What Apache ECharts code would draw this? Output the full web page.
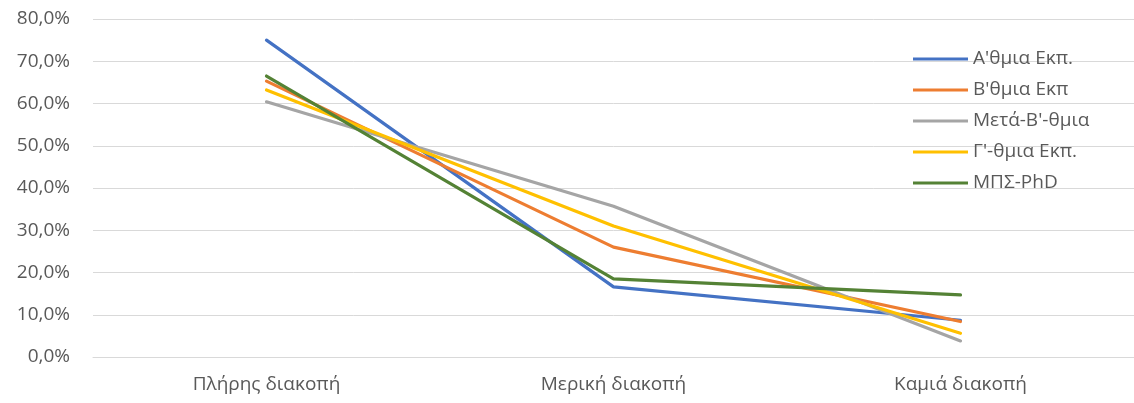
<!DOCTYPE html>
<html>
<head>
<meta charset="utf-8">
<script src="https://cdn.jsdelivr.net/npm/echarts@6/dist/echarts.min.js"></script>
<style>html,body{margin:0;padding:0;background:#fff;}#c{width:1134px;height:403px;}</style>
</head>
<body>
<div id="c"></div>
<script>
const categories = ['Πλήρης διακοπή', 'Μερική διακοπή', 'Καμιά διακοπή'];
const seriesNames = ["Α'θμια Εκπ.", "Β'θμια Εκπ", "Μετά-Β'-θμια", "Γ'-θμια Εκπ.", "ΜΠΣ-PhD"];
const alphaValues = [75.0, 16.6, 8.7];
const betaValues = [65.3, 26.0, 8.4];
const metaBetaValues = [60.4, 35.7, 3.8];
const gammaValues = [63.2, 31.0, 5.6];
const mpsValues = [66.5, 18.5, 14.7];
const yTicks = [0, 10, 20, 30, 40, 50, 60, 70, 80];

const colors = ['#4472C4', '#ED7D31', '#A5A5A5', '#FFC000', '#548235'];
const allValues = [alphaValues, betaValues, metaBetaValues, gammaValues, mpsValues];
const font = '"Open Sans", "Noto Sans", sans-serif';

const chart = echarts.init(document.getElementById('c'));
chart.setOption({
  animation: false,
  backgroundColor: '#fff',
  color: colors,
  grid: { left: 93, top: 19, width: 1049, height: 338, containLabel: false },
  legend: {
    orient: 'vertical',
    left: 908,
    top: 43,
    icon: 'rect',
    itemWidth: 55,
    itemHeight: 3,
    itemGap: 9,
    textStyle: { fontFamily: font, fontSize: 19, color: '#595959', lineHeight: 22 },
    data: seriesNames
  },
  xAxis: {
    type: 'category',
    data: categories,
    boundaryGap: true,
    axisLine: { lineStyle: { color: '#D9D9D9', width: 1 } },
    axisTick: { show: false },
    axisLabel: { fontFamily: font, fontSize: 19, color: '#595959', margin: 18 }
  },
  yAxis: {
    type: 'value',
    min: yTicks[0],
    max: yTicks[yTicks.length - 1],
    interval: 10,
    axisLine: { show: false },
    axisTick: { show: false },
    splitLine: { lineStyle: { color: '#D9D9D9', width: 1 } },
    axisLabel: {
      fontFamily: font, fontSize: 19, color: '#595959', margin: 23,
      formatter: v => v.toFixed(1).replace('.', ',') + '%'
    }
  },
  series: seriesNames.map((n, i) => ({
    name: n,
    type: 'line',
    data: allValues[i],
    symbol: 'none',
    lineStyle: { width: 3.2, color: colors[i], cap: 'round' },
    itemStyle: { color: colors[i] }
  }))
});
</script>
</body>
</html>
